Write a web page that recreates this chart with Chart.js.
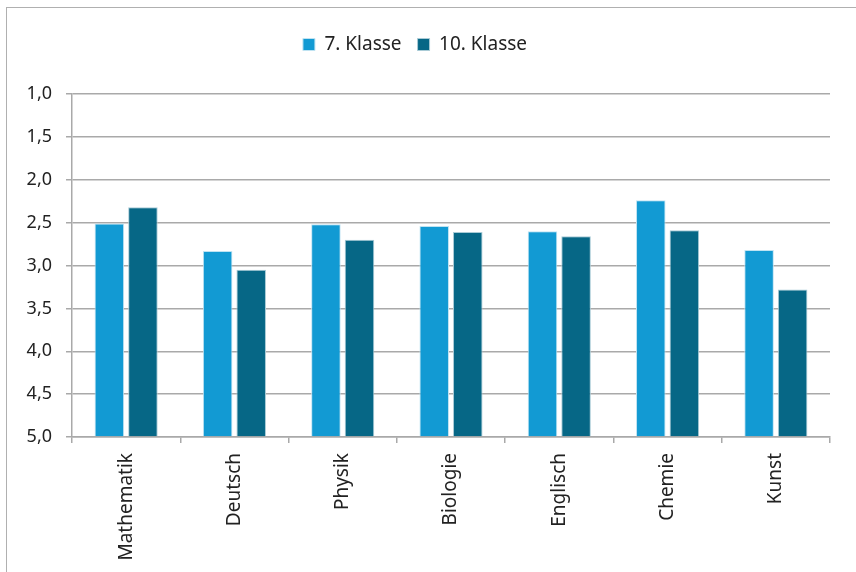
<!DOCTYPE html>
<html lang="de">
<head>
<meta charset="UTF-8">
<title>Noten 7. und 10. Klasse</title>
<script src="https://cdn.jsdelivr.net/npm/chart.js"></script>
<style>
  body { margin: 0; background: #fff; }
  .frame { position: absolute; left: 6px; top: 7px; width: 900px; height: 600px;
           border-left: 1.5px solid #b0b0b0; border-top: 1.5px solid #b0b0b0; }
  .wrap { position: absolute; left: 0; top: 0; width: 856px; height: 572px; }
</style>
</head>
<body>
<div class="frame"></div>
<div class="wrap"><canvas id="notenChart" width="856" height="572"></canvas></div>
<script>
  const faecher = ['Mathematik', 'Deutsch', 'Physik', 'Biologie', 'Englisch', 'Chemie', 'Kunst'];
  const klasse7 = [2.51, 2.83, 2.52, 2.54, 2.60, 2.24, 2.82];
  const klasse10 = [2.32, 3.05, 2.70, 2.61, 2.66, 2.59, 3.28];

  const fontFam = '"Noto Sans", "Open Sans", sans-serif';
  const gridGrey = '#a9a9a9';

  // extra room under the legend
  const legendGap = {
    id: 'legendGap',
    beforeInit(chart) {
      const fitOrig = chart.legend.fit;
      chart.legend.fit = function() {
        fitOrig.bind(chart.legend)();
        this.height += 30;
      };
    }
  };

  new Chart('notenChart', {
    type: 'bar',
    data: {
      labels: faecher,
      datasets: [{
        label: '7. Klasse',
        data: klasse7,
        base: 5,
        backgroundColor: '#129ad3',
        borderColor: '#bfe3f2',
        borderWidth: 1,
        borderSkipped: 'bottom'
      }, {
        label: '10. Klasse',
        data: klasse10,
        base: 5,
        backgroundColor: '#066786',
        borderColor: '#a9cbd6',
        borderWidth: 1,
        borderSkipped: 'bottom'
      }]
    },
    options: {
      responsive: false,
      animation: false,
      categoryPercentage: 0.62,
      barPercentage: 0.88,
      layout: { padding: { top: 19, right: 26, left: 0, bottom: 0 } },
      plugins: {
        tooltip: { enabled: false },
        legend: {
          position: 'top',
          labels: {
            boxWidth: 12,
            boxHeight: 12,
            padding: 16,
            color: '#222',
            font: { family: fontFam, size: 19 }
          }
        }
      },
      scales: {
        y: {
          reverse: true,
          min: 1,
          max: 5,
          afterFit: function(axis) { axis.width = 72; },
          ticks: {
            stepSize: 0.5,
            color: '#222',
            padding: 14,
            font: { family: fontFam, size: 18 },
            callback: v => v.toFixed(1).replace('.', ',')
          },
          grid: { color: gridGrey, lineWidth: 1.5, tickLength: 6 },
          border: { color: gridGrey, width: 1.5 }
        },
        x: {
          afterFit: function(axis) { axis.height = 135; },
          ticks: {
            minRotation: 90,
            maxRotation: 90,
            color: '#222',
            padding: 10,
            font: { family: fontFam, size: 19 }
          },
          grid: { drawOnChartArea: false, color: gridGrey, lineWidth: 1.5, tickLength: 6 },
          border: { color: gridGrey, width: 1.5 }
        }
      }
    },
    plugins: [legendGap]
  });
</script>
</body>
</html>
